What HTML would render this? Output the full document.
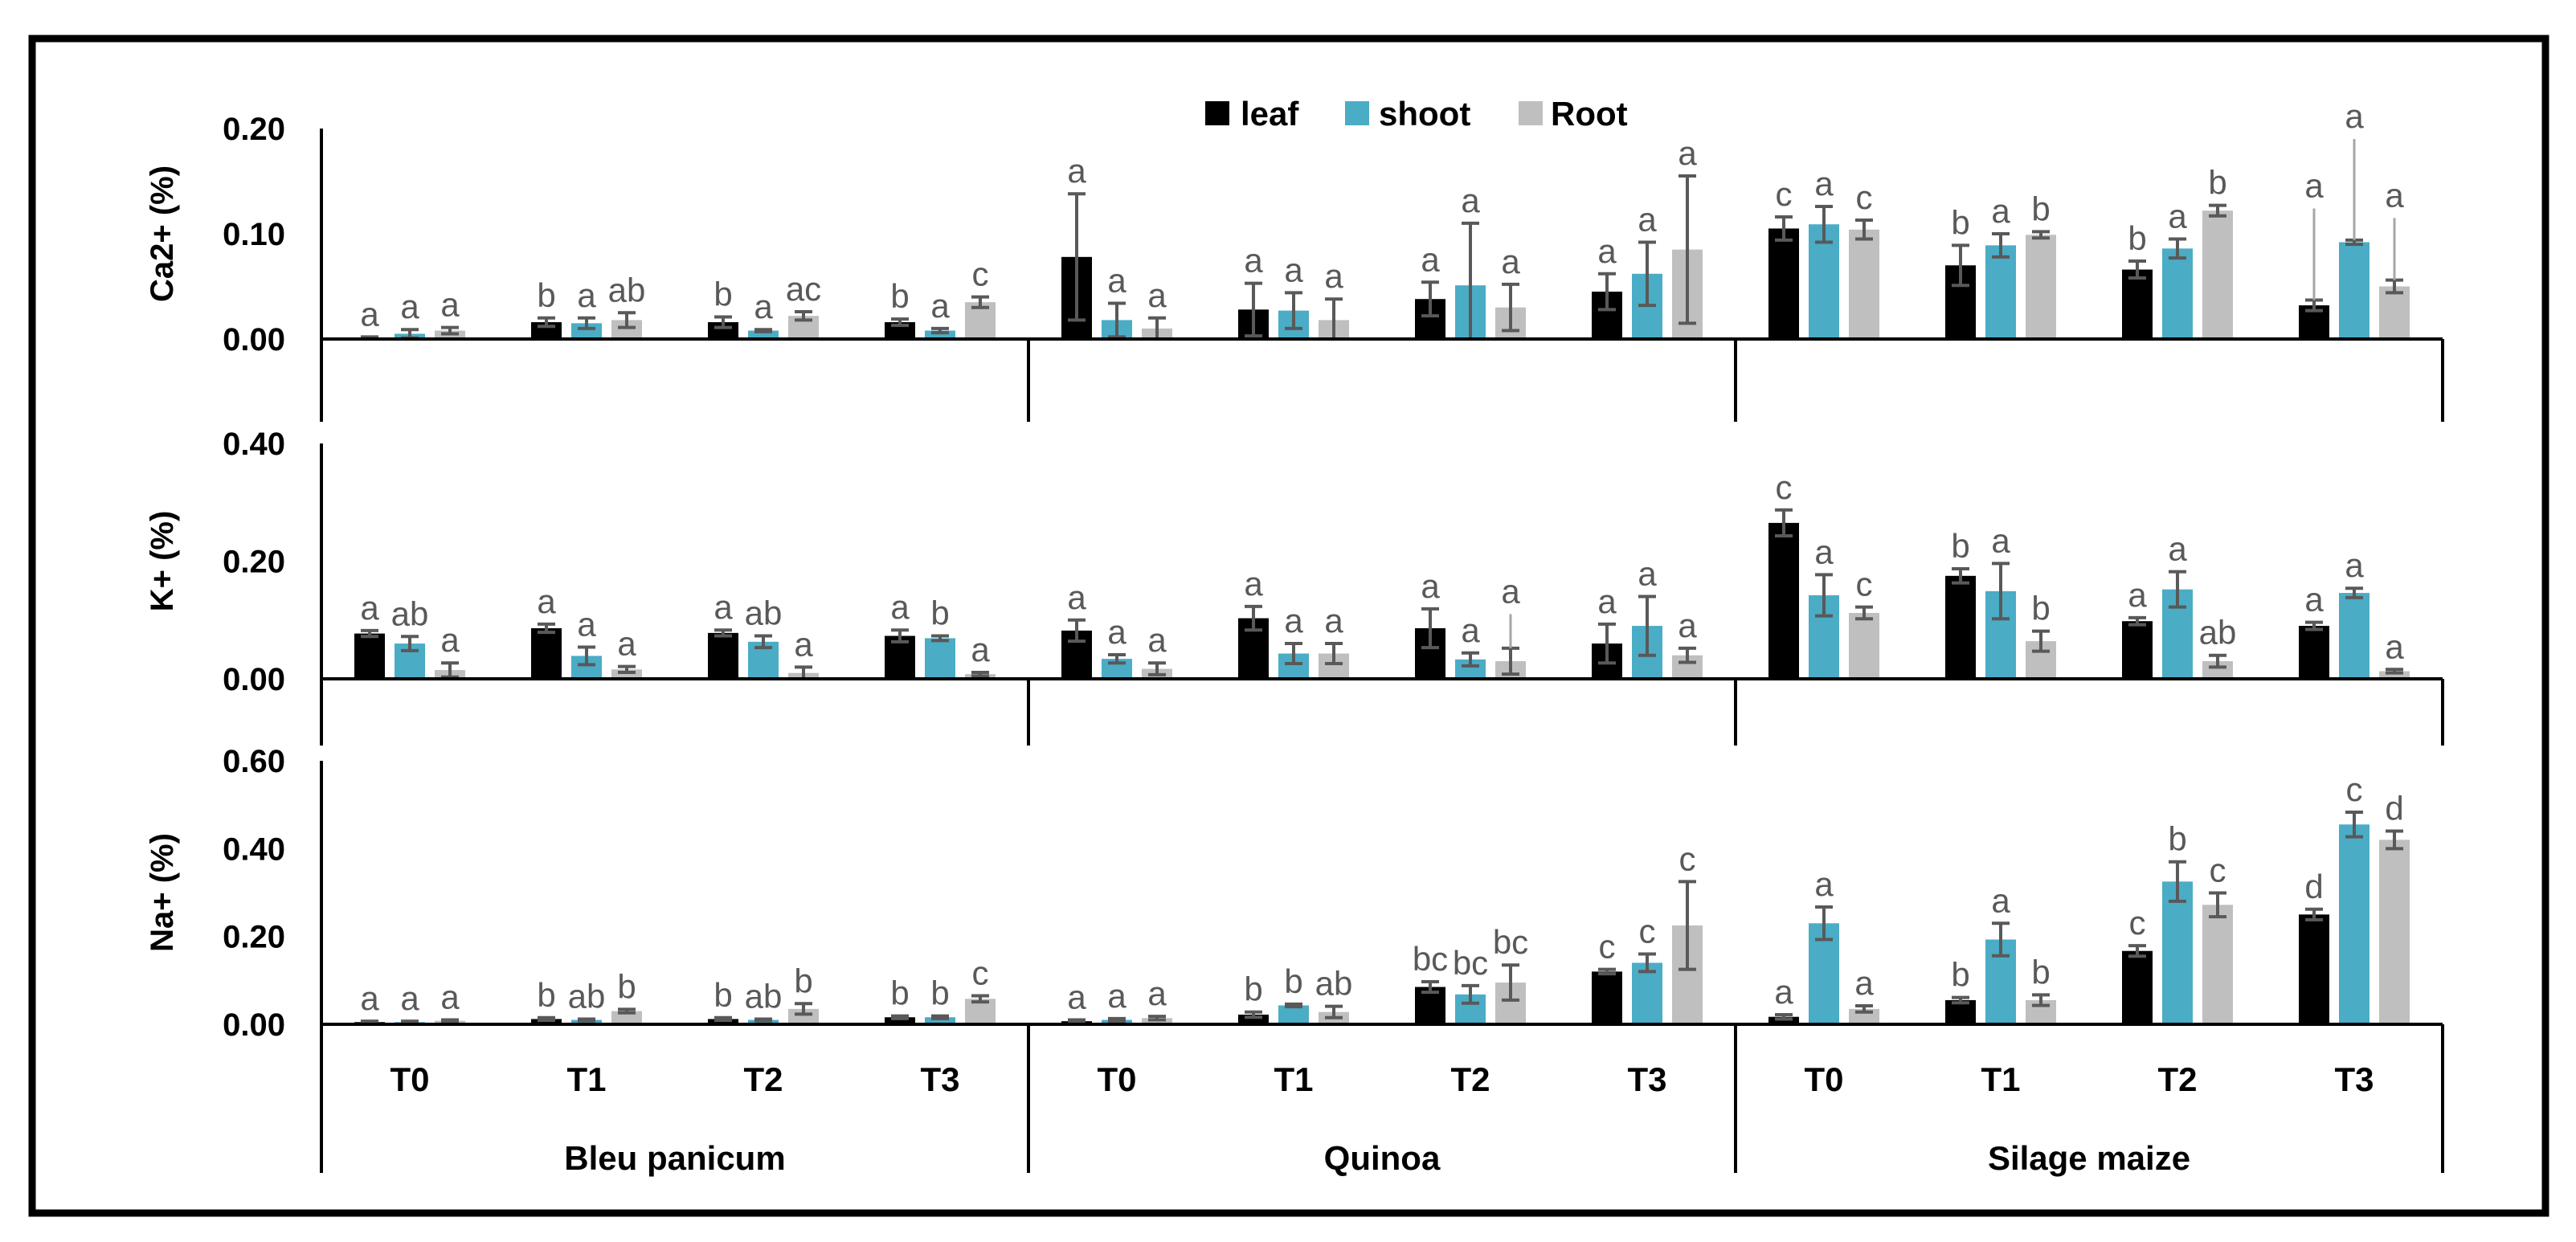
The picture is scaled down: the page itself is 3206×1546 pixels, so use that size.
<!DOCTYPE html>
<html><head><meta charset="utf-8">
<style>
html,body{margin:0;padding:0;background:#fff;}
svg{display:block;font-family:"Liberation Sans",sans-serif;}
</style></head>
<body>
<svg id="chart" width="3206" height="1546" viewBox="0 0 3206 1546" xmlns="http://www.w3.org/2000/svg">
<rect x="40" y="48" width="3128" height="1462" fill="none" stroke="#000" stroke-width="9"/>
<g font-size="42" font-weight="bold">
  <rect x="1500" y="126" width="30" height="30" fill="#000"/>
  <text x="1544" y="156">leaf</text>
  <rect x="1674" y="126" width="30" height="30" fill="#4BACC6"/>
  <text x="1716" y="156">shoot</text>
  <rect x="1890" y="126" width="30" height="30" fill="#BFBFBF"/>
  <text x="1930" y="156">Root</text>
</g>
<g id="plots"></g>
</svg>
<script>
// ---- data ----
const species = ["Bleu panicum", "Quinoa", "Silage maize"];
const treatments = ["T0", "T1", "T2", "T3"];
const seriesNames = ["leaf", "shoot", "Root"];
// Ca2+ (%)
const caLeaf  = [0.001,0.016,0.016,0.016, 0.078,0.028,0.038,0.045, 0.105,0.070,0.066,0.032];
const caShoot = [0.005,0.015,0.008,0.008, 0.018,0.027,0.051,0.062, 0.109,0.089,0.086,0.092];
const caRoot  = [0.008,0.018,0.022,0.035, 0.010,0.018,0.030,0.085, 0.104,0.099,0.122,0.050];
const caErrLeaf  = [0.001,0.004,0.005,0.003, 0.060,0.025,0.016,0.017, 0.011,0.019,0.008,0.005];
const caErrShoot = [0.004,0.005,0.001,0.002, 0.016,0.017,0.059,0.030, 0.017,0.011,0.009,0.002];
const caErrRoot  = [0.003,0.007,0.004,0.005, 0.010,0.020,0.022,0.070, 0.009,0.003,0.005,0.006];
const caThinLeaf  = [0,0,0,0, 0,0,0,0, 0,0,0,0.124];
const caThinShoot = [0,0,0,0, 0,0,0,0, 0,0,0,0.190];
const caThinRoot  = [0,0,0,0, 0,0,0,0, 0,0,0,0.115];
const caLetLeaf  = ["a","b","b","b","a","a","a","a","c","b","b","a"];
const caLetShoot = ["a","a","a","a","a","a","a","a","a","a","a","a"];
const caLetRoot  = ["a","ab","ac","c","a","a","a","a","c","b","b","a"];
const caTicks = ["0.00","0.10","0.20"];
// K+ (%)
const kLeaf  = [0.077,0.086,0.078,0.073, 0.082,0.103,0.086,0.060, 0.265,0.175,0.098,0.090];
const kShoot = [0.060,0.039,0.063,0.069, 0.034,0.043,0.033,0.090, 0.142,0.149,0.152,0.146];
const kRoot  = [0.015,0.016,0.010,0.008, 0.017,0.043,0.030,0.040, 0.112,0.064,0.030,0.013];
const kErrLeaf  = [0.005,0.007,0.005,0.010, 0.018,0.020,0.033,0.033, 0.022,0.012,0.006,0.006];
const kErrShoot = [0.012,0.015,0.010,0.004, 0.007,0.017,0.011,0.050, 0.035,0.047,0.030,0.008];
const kErrRoot  = [0.012,0.005,0.010,0.003, 0.010,0.017,0.022,0.012, 0.010,0.017,0.010,0.003];
const kThinLeaf  = [0,0,0,0, 0,0,0,0, 0,0,0,0];
const kThinShoot = [0,0,0,0, 0,0,0,0, 0,0,0,0];
const kThinRoot  = [0,0,0,0, 0,0,0.110,0, 0,0,0,0];
const kLetLeaf  = ["a","a","a","a","a","a","a","a","c","b","a","a"];
const kLetShoot = ["ab","a","ab","b","a","a","a","a","a","a","a","a"];
const kLetRoot  = ["a","a","a","a","a","a","a","a","c","b","ab","a"];
const kTicks = ["0.00","0.20","0.40"];
// Na+ (%)
const naLeaf  = [0.005,0.012,0.012,0.016, 0.007,0.022,0.085,0.120, 0.017,0.055,0.167,0.250];
const naShoot = [0.005,0.010,0.010,0.016, 0.010,0.043,0.068,0.140, 0.230,0.193,0.325,0.455];
const naRoot  = [0.008,0.030,0.035,0.058, 0.014,0.028,0.095,0.225, 0.035,0.055,0.272,0.420];
const naErrLeaf  = [0.002,0.003,0.003,0.003, 0.003,0.006,0.012,0.005, 0.005,0.006,0.012,0.012];
const naErrShoot = [0.002,0.002,0.002,0.003, 0.003,0.003,0.020,0.020, 0.037,0.037,0.045,0.028];
const naErrRoot  = [0.002,0.004,0.012,0.007, 0.004,0.013,0.040,0.100, 0.007,0.012,0.027,0.020];
const naThinLeaf  = [0,0,0,0, 0,0,0,0, 0,0,0,0];
const naThinShoot = [0,0,0,0, 0,0,0,0, 0,0,0,0];
const naThinRoot  = [0,0,0,0, 0,0,0,0, 0,0,0,0];
const naLetLeaf  = ["a","b","b","b","a","b","bc","c","a","b","c","d"];
const naLetShoot = ["a","ab","ab","b","a","b","bc","c","a","a","b","c"];
const naLetRoot  = ["a","b","b","c","a","ab","bc","c","a","b","c","d"];
const naTicks = ["0.00","0.20","0.40","0.60"];

// ---- layout ----
const NS = "http://www.w3.org/2000/svg";
const X0 = 400, X1 = 3040, CAT_W = (X1 - X0) / 12;
const colors = ["#000000", "#4BACC6", "#BFBFBF"];
const ERRC = "#595959";
const plots = document.getElementById("plots");
function mk(tag, attrs, parent) {
  const e = document.createElementNS(NS, tag);
  for (const k in attrs) e.setAttribute(k, attrs[k]);
  (parent || plots).appendChild(e);
  return e;
}
function xCenter(i) { return X0 + (i + 0.5) * CAT_W; }

const panels = [
  { key: "ca", title: "Ca2+ (%)", y0: 422, yTop: 160, max: 0.2, bottom: 525, ticks: caTicks,
    vals: [caLeaf, caShoot, caRoot], errs: [caErrLeaf, caErrShoot, caErrRoot],
    thin: [caThinLeaf, caThinShoot, caThinRoot], lets: [caLetLeaf, caLetShoot, caLetRoot] },
  { key: "k", title: "K+ (%)", y0: 845, yTop: 552, max: 0.4, bottom: 928, ticks: kTicks,
    vals: [kLeaf, kShoot, kRoot], errs: [kErrLeaf, kErrShoot, kErrRoot],
    thin: [kThinLeaf, kThinShoot, kThinRoot], lets: [kLetLeaf, kLetShoot, kLetRoot] },
  { key: "na", title: "Na+ (%)", y0: 1275, yTop: 947, max: 0.6, bottom: 1460, ticks: naTicks,
    vals: [naLeaf, naShoot, naRoot], errs: [naErrLeaf, naErrShoot, naErrRoot],
    thin: [naThinLeaf, naThinShoot, naThinRoot], lets: [naLetLeaf, naLetShoot, naLetRoot] }
];

panels.forEach(p => {
  const yScale = v => p.y0 - v / p.max * (p.y0 - p.yTop);
  const g = mk("g", {});
  
  
  // y axis
  const ax = mk("line", { x1: X0, x2: X0, y1: p.yTop, y2: p.bottom, stroke: "#000", "stroke-width": 4 }, g);
  
  
  // ticks
  p.ticks.forEach(t => {
    const tl = mk("text", { x: 355, y: yScale(parseFloat(t)) + 14, "text-anchor": "end", "font-size": 40, "font-weight": "bold", fill: "#000" }, g);
    tl.textContent = t;
    
    
  });
  // title
  const yc = (p.yTop + p.y0) / 2;
  const tt = mk("text", { x: 0, y: 0, transform: "translate(215," + yc + ") rotate(-90)", "text-anchor": "middle", "font-size": 40, "font-weight": "bold", fill: "#000" }, g);
  tt.textContent = p.title;
  
  
  // bars
  for (let i = 0; i < 12; i++) {
    for (let s = 0; s < 3; s++) {
      const v = p.vals[s][i], e = p.errs[s][i], th = p.thin[s][i];
      const cx = xCenter(i) + (s - 1) * 50;
      const yv = yScale(v);
      const b = mk("rect", { x: cx - 19, y: yv, width: 38, height: Math.max(p.y0 - yv, 0), fill: colors[s] }, g);
      
      
      const yHi = yScale(v + e), yLo = yScale(Math.max(v - e, 0));
      const eg = mk("g", { stroke: ERRC, "stroke-width": 4 }, g);
      
      
      mk("line", { x1: cx, x2: cx, y1: yHi, y2: yLo }, eg);
      mk("line", { x1: cx - 11, x2: cx + 11, y1: yHi, y2: yHi }, eg);
      mk("line", { x1: cx - 11, x2: cx + 11, y1: yLo, y2: yLo }, eg);
      let topY = yHi;
      if (th > 0) {
        const yt = yScale(th);
        mk("line", { x1: cx, x2: cx, y1: yt, y2: yHi, stroke: "#A6A6A6", "stroke-width": 3 }, eg);
        topY = yt;
      }
      const lt = mk("text", { x: cx, y: topY - 14, "text-anchor": "middle", "font-size": 42, fill: "#595959" }, g);
      lt.textContent = p.lets[s][i];
      
      
    }
  }
  // x axis
  const xa = mk("line", { x1: X0, x2: X1, y1: p.y0, y2: p.y0, stroke: "#000", "stroke-width": 4 }, g);
  
  
  [1, 2, 3].forEach(k => {
    const sx = X0 + k * 4 * CAT_W;
    const sl = mk("line", { x1: sx, x2: sx, y1: p.y0, y2: p.bottom, stroke: "#000", "stroke-width": 4 }, g);
    
    
  });
});

// category labels
for (let i = 0; i < 12; i++) {
  const t = mk("text", { x: xCenter(i), y: 1358, "text-anchor": "middle", "font-size": 42, "font-weight": "bold", fill: "#000" });
  t.textContent = treatments[i % 4];
  
  
}
species.forEach((sp, k) => {
  const t = mk("text", { x: X0 + (k * 4 + 2) * CAT_W, y: 1456, "text-anchor": "middle", "font-size": 42, "font-weight": "bold", fill: "#000" });
  t.textContent = sp;
  
  
});
</script>
</body></html>
